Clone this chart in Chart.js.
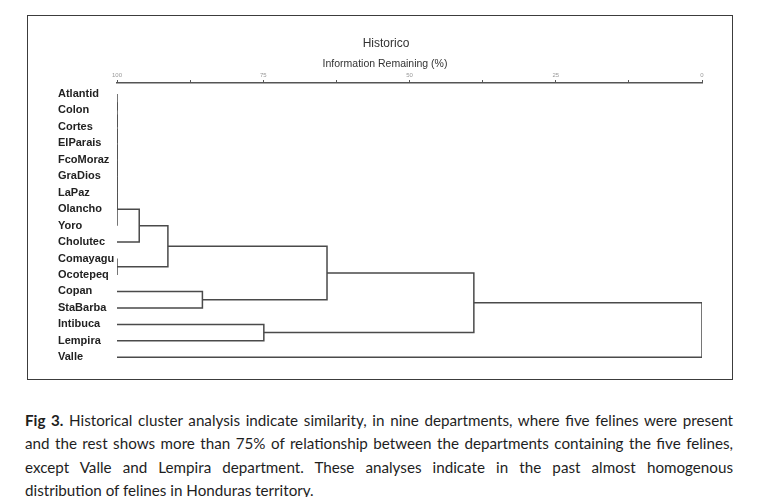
<!DOCTYPE html>
<html><head><meta charset="utf-8">
<script src="https://cdn.jsdelivr.net/npm/chart.js@4.4.0/dist/chart.umd.min.js"></script>
<style>
html,body{margin:0;padding:0;background:#fff;width:762px;height:497px;overflow:hidden;}
#frame{position:absolute;left:27px;top:15px;width:704px;height:363px;border:1px solid #3c3c3c;}
#wrap{position:absolute;left:0;top:0;width:762px;height:380px;}
#caption{position:absolute;left:25px;top:409px;width:708px;font-family:Lato,'Noto Sans',sans-serif;font-size:15.2px;line-height:23.3px;color:#1e1e1e;}
#caption div{text-align:justify;text-align-last:justify;white-space:normal;}
#caption div.last{text-align:left;text-align-last:left;}
</style></head><body>
<div id="frame"></div>
<div id="wrap"><canvas id="c"></canvas></div>
<div id="caption">
<div><b>Fig 3.</b> Historical cluster analysis indicate similarity, in nine departments, where five felines were present</div>
<div>and the rest shows more than 75% of relationship between the departments containing the five felines,</div>
<div>except Valle and Lempira department. These analyses indicate in the past almost homogenous</div>
<div class="last">distribution of felines in Honduras territory.</div>
</div>
<script>
const titleText = "Historico";
const axisTitle = "Information Remaining (%)";
const leaves = ["Atlantid","Colon","Cortes","ElParais","FcoMoraz","GraDios","LaPaz","Olancho","Yoro","Cholutec","Comayagu","Ocotepeq","Copan","StaBarba","Intibuca","Lempira","Valle"];
// merge steps: cluster id = leaves.length + step index
const mergeLeft   = [0, 17, 18, 19, 20, 21, 22, 23, 24, 10, 25, 12, 27, 14, 29, 31];
const mergeRight  = [1,  2,  3,  4,  5,  6,  7,  8,  9, 11, 26, 13, 28, 15, 30, 16];
const mergeHeight = [100,100,100,100,100,100,100,100,96.2,100,91.3,85.4,64.1,74.9,39.0,0];
const xTicks = [0,12.5,25,37.5,50,62.5,75,87.5,100];
const xTickLabels = ["0","","25","","50","","75","","100"];

const nodeX = leaves.map(() => 100);
const nodeY = leaves.map((_, i) => i);
const datasets = [];
mergeHeight.forEach((h, k) => {
  const a = mergeLeft[k], b = mergeRight[k];
  datasets.push({
    data: [
      {x: nodeX[a], y: nodeY[a]},
      {x: h, y: nodeY[a]},
      {x: h, y: nodeY[b]},
      {x: nodeX[b], y: nodeY[b]}
    ],
    showLine: true, borderColor: '#4a4a4a', borderWidth: 1.5,
    pointRadius: 0, tension: 0, fill: false
  });
  nodeX.push(h);
  nodeY.push((nodeY[a] + nodeY[b]) / 2);
});

const FONT = '"Liberation Sans", Arial, sans-serif';
const header = {
  id: 'header',
  afterDraw(chart) {
    const c = chart.ctx;
    c.save();
    c.fillStyle = '#333';
    c.textAlign = 'center';
    c.textBaseline = 'middle';
    c.font = '12px ' + FONT;
    c.fillText(titleText, 386, 44);
    c.font = '10.5px ' + FONT;
    c.fillText(axisTitle, 385, 64);
    c.restore();
  }
};

new Chart(document.getElementById('c'), {
  type: 'scatter',
  data: { datasets },
  plugins: [header],
  options: {
    animation: false,
    responsive: true,
    maintainAspectRatio: false,
    layout: { padding: { left: 58, right: 60, top: 70, bottom: 0 } },
    plugins: { legend: { display: false }, tooltip: { enabled: false } },
    scales: {
      x: {
        type: 'linear', position: 'top', reverse: true, min: 0, max: 100,
        afterBuildTicks: s => { s.ticks = xTicks.map(v => ({ value: v })); },
        afterFit: s => { s.height = 13; s.paddingLeft = 0; s.paddingRight = 0; },
        ticks: {
          autoSkip: false, maxRotation: 0, padding: 1, color: '#999',
          font: { family: FONT, size: 6 },
          callback: v => xTickLabels[xTicks.indexOf(v)]
        },
        grid: { drawOnChartArea: false, tickLength: 3, color: '#555', tickWidth: 1 },
        border: { color: '#555', width: 1.5 }
      },
      y: {
        type: 'linear', reverse: true, min: -0.668, max: 17.38,
        afterBuildTicks: s => { s.ticks = leaves.map((_, i) => ({ value: i })); },
        afterFit: s => { s.width = 59; s.paddingTop = 0; s.paddingBottom = 0; },
        ticks: {
          autoSkip: false, crossAlign: 'far', padding: 0, color: '#222',
          font: { family: FONT, size: 11, weight: 'bold' },
          callback: v => leaves[v]
        },
        grid: { display: false },
        border: { display: false }
      }
    }
  }
});
</script>
</body></html>
